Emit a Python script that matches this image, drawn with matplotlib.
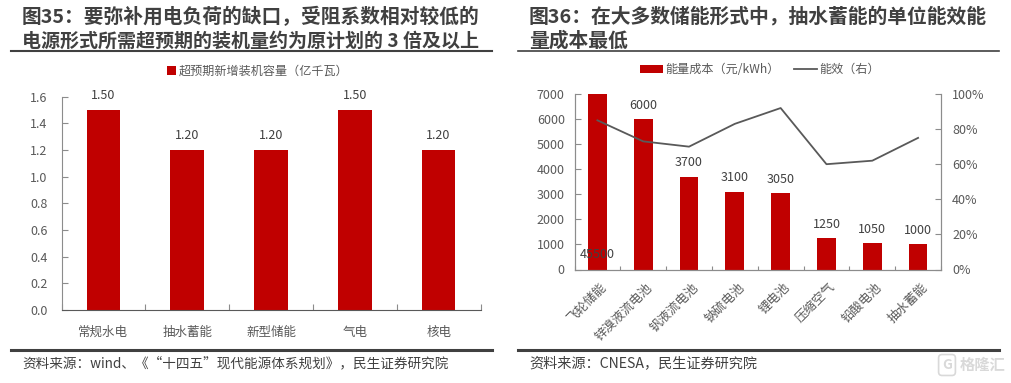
import matplotlib
matplotlib.use("Agg")
import matplotlib.pyplot as plt
from matplotlib.ticker import FuncFormatter

plt.rcParams["font.family"] = ["Noto Sans CJK SC", "DejaVu Sans"]

W, H = 1011, 383

# 图35
left_cats = ["常规水电", "抽水蓄能", "新型储能", "气电", "核电"]
left_vals = [1.50, 1.20, 1.20, 1.50, 1.20]
left_ticks = [0.0, 0.2, 0.4, 0.6, 0.8, 1.0, 1.2, 1.4, 1.6]

# 图36
right_cats = ["飞轮储能", "锌溴液流电池", "钒液流电池", "钠硫电池", "锂电池", "压缩空气", "铅酸电池", "抽水蓄能"]
right_cost = [7000, 6000, 3700, 3100, 3050, 1250, 1050, 1000]
right_labels = ["45500", "6000", "3700", "3100", "3050", "1250", "1050", "1000"]
right_eff = [85, 73, 70, 83, 92, 60, 62, 75]
right_ticks = [0, 1000, 2000, 3000, 4000, 5000, 6000, 7000]
right_pct_ticks = [0, 20, 40, 60, 80, 100]

RED = "#c00000"
GREY = "#595959"
TXT = "#404040"
AXC = "#8c8c8c"


def px_axes(fig, x0, y0, x1, y1):
    # 像素坐标 -> figure 坐标
    return fig.add_axes([x0 / W, 1 - y1 / H, (x1 - x0) / W, (y1 - y0) / H])


def ftext(fig, x, y, s, **kw):
    return fig.text(x / W, 1 - y / H, s, **kw)


def hline(fig, x0, x1, y, lw):
    fig.add_artist(plt.Line2D([x0 / W, x1 / W], [1 - y / H, 1 - y / H], color="#404040", lw=lw))


fig = plt.figure(figsize=(W / 100, H / 100), dpi=100)

# 标题和来源
title_kw = dict(fontweight="bold", color=TXT, va="center", ha="left")
ftext(fig, 22, 17, "图35：要弥补用电负荷的缺口，受阻系数相对较低的", fontsize=14.2, **title_kw)
ftext(fig, 22, 41, "电源形式所需超预期的装机量约为原计划的 3 倍及以上", fontsize=13.7, **title_kw)
ftext(fig, 529, 17, "图36：在大多数储能形式中，抽水蓄能的单位能效能", fontsize=14.25, **title_kw)
ftext(fig, 529, 41, "量成本最低", fontsize=14.25, **title_kw)
hline(fig, 11, 492, 50.5, 1.5)
hline(fig, 518, 999, 50.5, 1.2)
hline(fig, 11, 492, 349.5, 2.2)
hline(fig, 518, 999, 349.5, 2.2)
ftext(fig, 22, 363, "资料来源：wind、《“十四五”现代能源体系规划》，民生证券研究院", fontsize=9.8, color=TXT, va="center")
ftext(fig, 529, 363, "资料来源：CNESA，民生证券研究院", fontsize=10.2, color=TXT, va="center")
# 水印
ftext(fig, 1005, 365, "格隆汇", fontsize=11, color="#d9d9d9", va="center", ha="right", fontweight="bold")
ftext(fig, 947, 365, "G", fontsize=10, color="#d9d9d9", va="center", ha="center", fontweight="bold",
      bbox=dict(boxstyle="round,pad=0.25", fc="none", ec="#d9d9d9", lw=1.2))

# 左图
ax = px_axes(fig, 61.5, 96.5, 480.5, 310)
ax.bar(range(5), left_vals, width=0.4, color=RED, label="超预期新增装机容量（亿千瓦）")
ax.set_xlim(-0.5, 4.5)
ax.set_ylim(0, 1.6)
ax.set_yticks(left_ticks)
ax.yaxis.set_major_formatter(FuncFormatter(lambda v, p: f"{v:.1f}"))
ax.set_xticks([i - 0.5 for i in range(6)])
ax.set_xticklabels([])
for i, c in enumerate(left_cats):
    ax.annotate(c, (i, 0), xytext=(0, -16), textcoords="offset points", ha="center", va="center",
                fontsize=9, color=GREY)
for i, v in enumerate(left_vals):
    ax.annotate(f"{v:.2f}", (i, v), xytext=(0, 10), textcoords="offset points", ha="center", va="center",
                fontsize=9, color=TXT)
ax.tick_params(axis="y", direction="in", length=4, color=AXC, labelcolor=GREY, labelsize=9, width=0.8, pad=10)
ax.tick_params(axis="x", direction="in", length=4, color=AXC, width=0.8)
for s in ["top", "right"]:
    ax.spines[s].set_visible(False)
ax.spines["left"].set_color(AXC)
ax.spines["bottom"].set_color("#595959")
fig.legend(*ax.get_legend_handles_labels(), loc="center", bbox_to_anchor=(258 / W, 1 - 71 / H), frameon=False,
           fontsize=8.7, labelcolor=GREY, handlelength=0.7, handleheight=0.7, handletextpad=0.3)

# 右图
ax1 = px_axes(fig, 574.5, 94, 941, 269.5)
x = list(range(8))
ax1.bar(x, right_cost, width=0.41, color=RED, label="能量成本（元/kWh）")
ax1.set_xlim(-0.5, 7.5)
ax1.set_ylim(0, 7000)
ax1.set_yticks(right_ticks)
ax1.set_xticks([i - 0.5 for i in range(9)])
ax1.set_xticklabels([])
for i, c in enumerate(right_cats):
    ax1.annotate(c, (i, 0), xytext=(2, -8), textcoords="offset points", ha="right", va="top",
                 rotation=45, rotation_mode="anchor", fontsize=9, color=GREY)
for i, (v, s) in enumerate(zip(right_cost, right_labels)):
    if i == 0:
        ax1.annotate(s, (i, 600), ha="center", va="center", fontsize=9, color=TXT, zorder=6)
    else:
        ax1.annotate(s, (i, v), xytext=(0, 10), textcoords="offset points", ha="center", va="center",
                     fontsize=9, color=TXT)
ax1.tick_params(axis="y", direction="in", length=4, color=AXC, labelcolor=GREY, labelsize=9, width=0.8, pad=7)
ax1.tick_params(axis="x", direction="in", length=3, color=AXC, width=0.8)

ax2 = ax1.twinx()
ax2.plot(x, right_eff, color=GREY, lw=1.3, label="能效（右）")
ax2.set_ylim(0, 100)
ax2.set_yticks(right_pct_ticks)
ax2.yaxis.set_major_formatter(FuncFormatter(lambda v, p: f"{v:.0f}%"))
ax2.tick_params(axis="y", direction="in", length=4, color=AXC, labelcolor=GREY, labelsize=9, width=0.8, pad=8)
for a in (ax1, ax2):
    a.spines["top"].set_visible(False)
    for s in ["left", "right", "bottom"]:
        a.spines[s].set_color(AXC)

h1, l1 = ax1.get_legend_handles_labels()
h2, l2 = ax2.get_legend_handles_labels()
fig.legend(h1 + h2, l1 + l2, loc="center", bbox_to_anchor=(760 / W, 1 - 69.5 / H), ncol=2, frameon=False,
           fontsize=8.7, labelcolor=GREY, handlelength=1.9, handleheight=0.6, handletextpad=0.2, columnspacing=1.2)

fig.savefig("out.png", dpi=100)
